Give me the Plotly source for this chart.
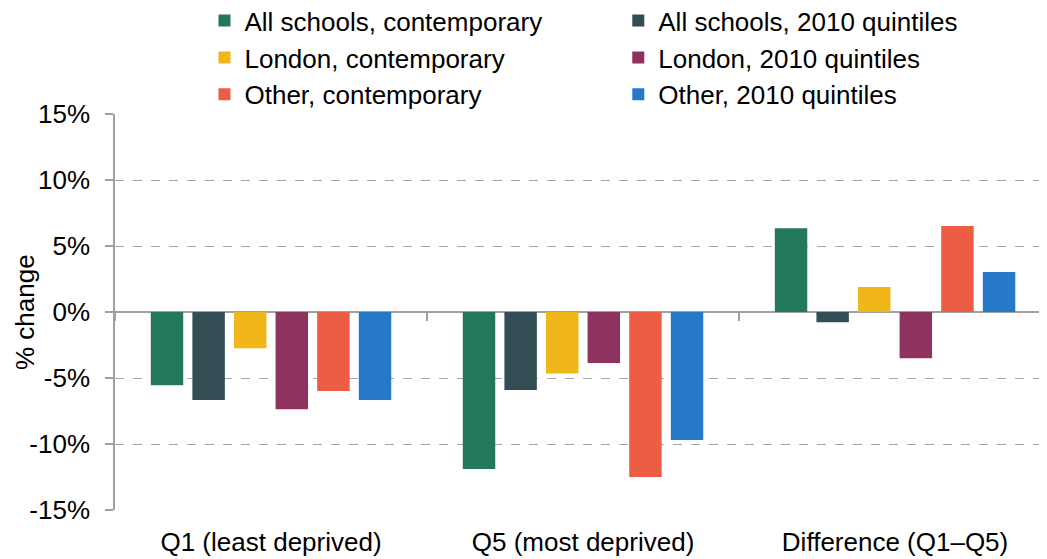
import plotly.graph_objects as go

# Categories along the x axis
categories = ['Q1 (least deprived)', 'Q5 (most deprived)', 'Difference (Q1–Q5)']

# Percentage change by series
all_contemporary = [-5.55, -11.9, 6.35]
all_2010 = [-6.67, -5.9, -0.77]
london_contemporary = [-2.75, -4.65, 1.9]
london_2010 = [-7.37, -3.86, -3.51]
other_contemporary = [-5.98, -12.5, 6.52]
other_2010 = [-6.67, -9.7, 3.03]

y_ticks = [-15, -10, -5, 0, 5, 10, 15]
y_tick_labels = ['{}%'.format(v) for v in y_ticks]

font_family = 'Arial, Liberation Sans, sans-serif'

series = [
    ('All schools, contemporary', all_contemporary, '#23785A', 'legend'),
    ('All schools, 2010 quintiles', all_2010, '#324D54', 'legend2'),
    ('London, contemporary', london_contemporary, '#F1B61A', 'legend'),
    ('London, 2010 quintiles', london_2010, '#8E3360', 'legend2'),
    ('Other, contemporary', other_contemporary, '#EC5D43', 'legend'),
    ('Other, 2010 quintiles', other_2010, '#2678C8', 'legend2'),
]

fig = go.Figure()
for name, values, colour, legend in series:
    fig.add_trace(go.Bar(x=categories, y=values, name=name,
                         marker=dict(color=colour, line=dict(width=0)),
                         legend=legend,
                         hovertemplate='%{x}<br>' + name + ': %{y:.1f}%<extra></extra>'))

# Invisible helper trace so the tick marks can sit on the zero line
fig.add_trace(go.Scatter(x=categories, y=[0] * len(categories), xaxis='x2',
                         mode='markers', marker=dict(opacity=0),
                         showlegend=False, hoverinfo='skip'))

x_range = [-0.5, 2.487]

# page body has an 8px margin, so the figure is a little smaller than the window
fig.update_layout(
    width=1039, height=551,
    margin=dict(l=107, r=0, t=106, b=49, autoexpand=False),
    paper_bgcolor='white', plot_bgcolor='white',
    font=dict(family=font_family, size=26, color='black'),
    barmode='group', bargap=0.2, bargroupgap=0.22,
    legend=dict(x=0.096, y=1.295, xanchor='left', yanchor='top',
                font=dict(size=26), bgcolor='rgba(0,0,0,0)'),
    legend2=dict(x=0.540, y=1.295, xanchor='left', yanchor='top',
                 font=dict(size=26), bgcolor='rgba(0,0,0,0)'),
    xaxis=dict(range=x_range, showline=False, ticks='', showgrid=False,
               ticklabelstandoff=14, tickfont=dict(size=26)),
    xaxis2=dict(range=x_range, overlaying='x', anchor='free', position=0.5,
                categoryorder='array', categoryarray=categories,
                tickson='boundaries', ticks='outside', ticklen=8,
                tickcolor='#A0A0A0', tickwidth=1.5,
                showticklabels=False, showline=False, showgrid=False),
    yaxis=dict(range=[-15, 15], tickvals=y_ticks, ticktext=y_tick_labels,
               showline=True, linecolor='#A0A0A0', linewidth=1.5,
               ticks='outside', ticklen=8, tickcolor='#A0A0A0', tickwidth=1.5,
               ticklabelstandoff=10,
               showgrid=True, gridcolor='#A6A6A6', griddash='dash', gridwidth=1,
               zeroline=True, zerolinecolor='#A0A0A0', zerolinewidth=1.5,
               tickfont=dict(size=26)),
    annotations=[dict(text='% change', textangle=-90, xref='paper', yref='paper',
                      x=-0.0966, y=0.5, xanchor='center', yanchor='middle',
                      showarrow=False, font=dict(size=26))],
)

fig.write_html('out.html')
